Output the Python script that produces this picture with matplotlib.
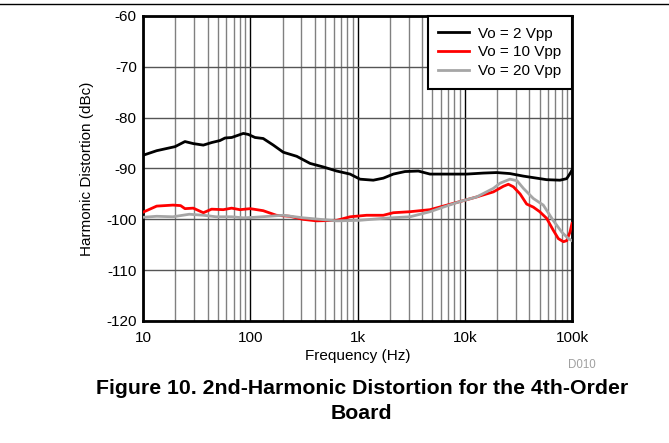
# 2nd-harmonic distortion vs frequency, 4th-order board (three output swings)
import matplotlib
matplotlib.use("Agg")
import matplotlib.pyplot as plt
from matplotlib.ticker import FixedLocator, LogLocator, NullFormatter

plt.rcParams["font.family"] = ["Liberation Sans", "DejaVu Sans"]
plt.rcParams["axes.unicode_minus"] = False

# Vo = 2 Vpp
F_2V = [10, 13.4, 19.9, 24.6, 29.4, 36.5, 43.6, 52.2, 58.2, 67.1, 86.2, 95.9, 110.7,
        132, 164, 203, 271, 361, 480, 640, 852, 1055, 1403, 1740, 2157, 2773, 3690,
        4745, 7280, 10420, 14900, 19850, 26400, 35200, 46900, 58000, 77300, 89200,
        97200, 100000]
HD_2V = [-87.4, -86.5, -85.7, -84.7, -85.1, -85.4, -84.9, -84.5, -84.0, -83.9, -83.1,
         -83.3, -83.9, -84.1, -85.4, -86.8, -87.6, -89.0, -89.7, -90.5, -91.1, -92.1,
         -92.3, -91.9, -91.1, -90.6, -90.5, -91.1, -91.1, -91.1, -90.9, -90.8, -91.0,
         -91.5, -91.9, -92.2, -92.3, -92.0, -90.8, -90.3]

# Vo = 10 Vpp
F_10V = [10, 13.4, 19, 22.4, 24.6, 29.4, 36.5, 43.6, 56, 67, 80, 100, 132, 175, 233,
         310, 415, 640, 852, 1217, 1740, 2157, 3090, 4745, 6300, 9040, 12900, 18500,
         22900, 25500, 28400, 32800, 37800, 43600, 50000, 58000, 66700, 74600, 83200,
         89200, 95800, 100000]
HD_10V = [-98.6, -97.4, -97.2, -97.3, -97.9, -97.8, -98.7, -98.0, -98.1, -97.8, -98.1,
          -97.9, -98.3, -99.2, -99.4, -100.0, -100.3, -100.2, -99.5, -99.2, -99.2,
          -98.7, -98.5, -98.1, -97.4, -96.5, -95.6, -94.6, -93.5, -93.1, -93.6, -95.0,
          -97.0, -97.6, -98.5, -99.8, -102.1, -103.8, -104.4, -104.2, -102.5, -100.8]

# Vo = 20 Vpp
F_20V = [10, 13.4, 19, 27, 36.5, 48, 67, 86, 110, 150, 203, 310, 640, 1040, 1740,
         3090, 4745, 6300, 9040, 12900, 18500, 21300, 26400, 30700, 35200, 43600,
         54000, 66700, 80200, 92600, 100000]
HD_20V = [-99.6, -99.4, -99.5, -99.0, -99.2, -99.5, -99.5, -99.7, -99.6, -99.4, -99.2,
          -99.7, -100.3, -100.2, -99.8, -99.5, -98.5, -97.6, -96.5, -95.6, -93.9,
          -92.9, -92.1, -92.4, -93.9, -95.9, -97.2, -100.2, -102.5, -103.8, -104.2]

XTICKS = [10, 100, 1000, 10000, 100000]
XTICKLABELS = ["10", "100", "1k", "10k", "100k"]
YTICKS = [-120, -110, -100, -90, -80, -70, -60]

FS = 11

fig = plt.figure(figsize=(6.69, 4.43), dpi=100)
ax = fig.add_axes([0.2138, 0.2754, 0.6412, 0.6885])

ax.plot(F_2V, HD_2V, color="black", lw=2, label="Vo = 2 Vpp", zorder=3)
ax.plot(F_10V, HD_10V, color="#ff0000", lw=2, label="Vo = 10 Vpp", zorder=3)
ax.plot(F_20V, HD_20V, color="#a6a6a6", lw=2, label="Vo = 20 Vpp", zorder=3)

ax.set_xscale("log")
ax.set_xlim(10, 100000)
ax.set_ylim(-120, -60)
ax.xaxis.set_major_locator(FixedLocator(XTICKS))
ax.set_xticklabels(XTICKLABELS)
ax.xaxis.set_minor_locator(LogLocator(base=10, subs=range(2, 10)))
ax.xaxis.set_minor_formatter(NullFormatter())
ax.set_yticks(YTICKS)
ax.tick_params(axis="both", which="both", length=0, labelsize=FS)
ax.tick_params(axis="x", pad=7)
ax.tick_params(axis="y", pad=4.5)

ax.grid(which="major", axis="x", color="black", lw=1)
ax.grid(which="minor", axis="x", color="#808080", lw=1)
ax.grid(which="major", axis="y", color="#555555", lw=1)
ax.set_axisbelow(True)
for sp in ax.spines.values():
    sp.set_linewidth(2)

ax.set_xlabel("Frequency (Hz)", fontsize=FS, labelpad=3)
ax.set_ylabel("Harmonic Distortion (dBc)", fontsize=FS, labelpad=9)

leg = ax.legend(loc="upper right", borderaxespad=0, fancybox=False, framealpha=1,
                edgecolor="black", fontsize=FS, handlelength=2.0, handletextpad=0.6,
                borderpad=0.7, labelspacing=0.3)
leg.get_frame().set_linewidth(1.5)
leg.set_zorder(5)

fig.text(0.87, 0.176, "D010", color="#a0a0a0", fontsize=8.3, ha="center", va="center")
fig.text(0.541, 0.124, "Figure 10. 2nd-Harmonic Distortion for the 4th-Order",
         fontsize=15.3, fontweight="bold", ha="center", va="center")
fig.text(0.541, 0.066, "Board", fontsize=15.3, fontweight="bold", ha="center", va="center")
fig.add_artist(plt.Line2D([0, 1], [0.991, 0.991], color="black", lw=1,
                          transform=fig.transFigure))

fig.savefig("out.png", dpi=100)
